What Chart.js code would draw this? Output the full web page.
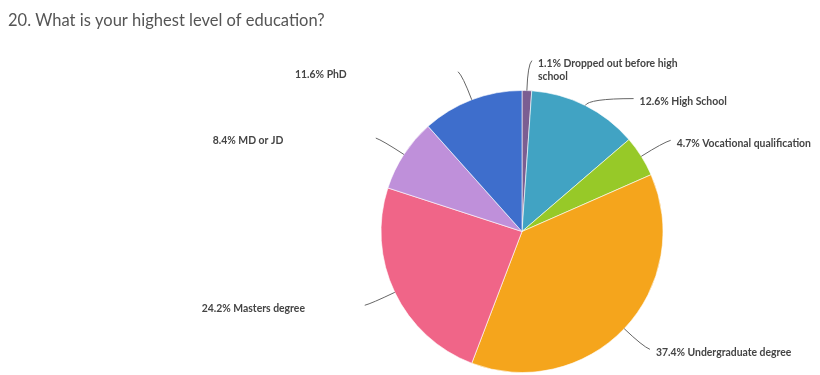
<!DOCTYPE html>
<html>
<head>
<meta charset="utf-8">
<script src="https://cdn.jsdelivr.net/npm/chart.js@4.4.1/dist/chart.umd.min.js"></script>
<style>
  html, body { margin: 0; padding: 0; background: #fff; }
  #wrap { width: 820px; height: 375px; position: relative; }
</style>
</head>
<body>
<div id="wrap"><canvas id="eduChart" width="820" height="375"></canvas></div>
<script>
// chart data
const titleText = "20. What is your highest level of education?";
const categories = [
    "Dropped out before high school",
    "High School",
    "Vocational qualification",
    "Undergraduate degree",
    "Masters degree",
    "MD or JD",
    "PhD"
];
const percentages = [1.1, 12.6, 4.7, 37.4, 24.2, 8.4, 11.6];
const sliceColors = ["#7b5e92", "#41a3c3", "#97c928", "#f5a51c", "#f06588", "#bf90da", "#3e6ecc"];

const labelFont = "bold 10.4px Lato, sans-serif";

// wraps a label into lines no wider than maxW
function wrapText(ctx, text, maxW) {
    const words = text.split(" ");
    const lines = [];
    let line = "";
    words.forEach(w => {
        const test = line ? line + " " + w : w;
        if (ctx.measureText(test).width > maxW && line) {
            lines.push(line);
            line = w;
        } else {
            line = test;
        }
    });
    if (line) lines.push(line);
    return lines;
}

// draws the title, connector lines and outside labels
const outsideLabels = {
    id: "outsideLabels",
    afterDraw(chart) {
        const ctx = chart.ctx;
        ctx.save();
        ctx.fillStyle = "#555";
        ctx.font = "16.5px Lato, sans-serif";
        ctx.textBaseline = "alphabetic";
        ctx.textAlign = "left";
        ctx.fillText(titleText, 8, 26);

        const meta = chart.getDatasetMeta(0);
        const dist = 30;
        const lineH = 13;
        const gap = 12;
        ctx.font = labelFont;

        const items = meta.data.map((arc, i) => {
            const a = (arc.startAngle + arc.endAngle) / 2;
            const r = arc.outerRadius;
            const text = percentages[i].toFixed(1) + "% " + categories[i];
            const lines = wrapText(ctx, text, 145);
            return {
                arc, a, r, lines,
                cx: arc.x, cy: arc.y,
                right: Math.cos(a) >= 0,
                y: arc.y + (r + dist) * Math.sin(a)
            };
        });

        // push labels down on each side so they don't overlap
        [true, false].forEach(side => {
            const list = items.filter(it => it.right === side).sort((p, q) => p.y - q.y);
            let prevBottom = -Infinity;
            list.forEach(it => {
                if (it.y < prevBottom) it.y = prevBottom;
                prevBottom = it.y + it.lines.length * lineH + gap;
            });
        });

        items.forEach(it => {
            const R = it.r + dist;
            const dy = Math.max(-R, Math.min(R, it.y - it.cy));
            const dx = Math.sqrt(R * R - dy * dy);
            const ax = it.cx + (it.right ? dx : -dx);
            const ay = it.y;
            const ex = it.cx + it.r * Math.cos(it.a);
            const ey = it.cy + it.r * Math.sin(it.a);
            // control point on the radial line at the label's height
            let t = Math.sin(it.a) !== 0 ? (ay - it.cy) / Math.sin(it.a) : R;
            t = Math.max(it.r + 2, Math.min(R - 4, t));
            const kx = it.cx + t * Math.cos(it.a);
            const ky = it.cy + t * Math.sin(it.a);

            ctx.strokeStyle = "#666";
            ctx.lineWidth = 1;
            ctx.beginPath();
            ctx.moveTo(ex, ey);
            ctx.quadraticCurveTo(kx, ky, ax + (it.right ? 4 : -3), ay);
            ctx.stroke();

            ctx.fillStyle = "#444";
            ctx.textAlign = "left";
            ctx.textBaseline = "middle";
            const tx = it.right ? ax + 10 : ax - 166;
            it.lines.forEach((ln, k) => {
                ctx.fillText(ln, tx, ay + 3 + k * lineH);
            });
        });
        ctx.restore();
    }
};

const chartCtx = document.getElementById("eduChart").getContext("2d");
new Chart(chartCtx, {
    type: "pie",
    data: {
        labels: categories,
        datasets: [{
            data: percentages,
            backgroundColor: sliceColors,
            borderColor: "rgba(255,255,255,0.6)",
            borderWidth: 1
        }]
    },
    options: {
        responsive: false,
        animation: false,
        layout: { padding: { top: 90, bottom: 2, left: 224, right: 0 } },
        plugins: {
            legend: { display: false },
            tooltip: { enabled: false }
        }
    },
    plugins: [outsideLabels]
});
</script>
</body>
</html>
